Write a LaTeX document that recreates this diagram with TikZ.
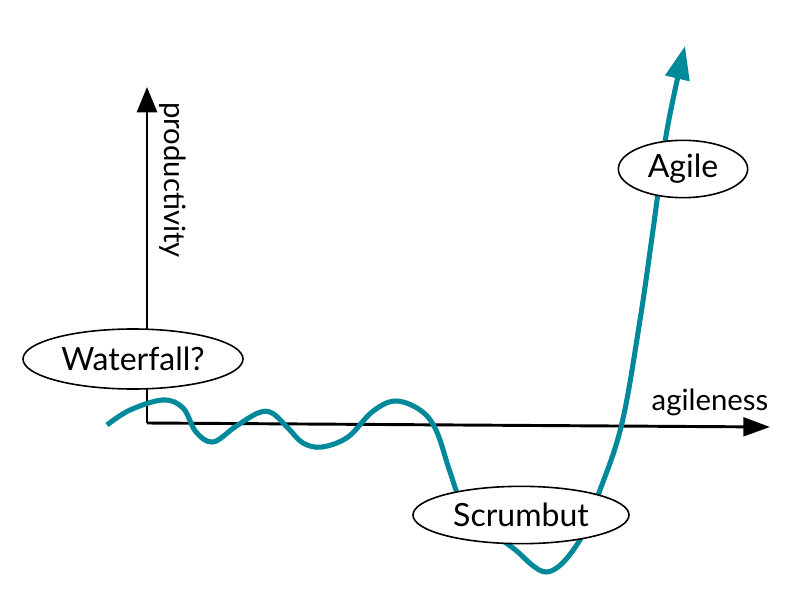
\documentclass[tikz,border=0pt]{standalone}
\usepackage{fontspec}
\setmainfont{Lato}
\usetikzlibrary{arrows.meta,shapes.geometric}
\definecolor{curveteal}{RGB}{0,137,154}
\tikzset{
	axisline/.style={line width=2.2pt, -{Triangle[length=19pt, width=15pt]}},
	labelbubble/.style={ellipse, draw, fill=white, line width=1.2pt, inner sep=0pt, font=\fontsize{24}{28}\selectfont},
	axislabel/.style={font=\fontsize{22}{26}\selectfont, inner sep=0pt}
}
\begin{document}
\begin{tikzpicture}[x=0.75pt, y=-0.75pt]
			%%%%% START %%%%%
			\useasboundingbox (0, 0) rectangle (802, 598);
			
			\coordinate (origin) at (147, 423);
			\coordinate (ytop) at (147, 87);
			\coordinate (xend) at (770, 427);
			
			\draw[axisline] (origin) -- (ytop);
			\draw[axisline, -{Triangle[length=20pt, width=14pt]}] (origin) -- (xend);
			
			\node[axislabel, rotate=-90] (prodlabel) at (173, 180) {productivity};
			\node[axislabel] (agilelabel) at (710, 402) {agileness};
			
			\coordinate (curvetip) at (685, 46);
			\draw[line width=3.8pt, color=curveteal, -{Triangle[length=25pt, width=18pt]}]
				plot[smooth, tension=0.6] coordinates {(107, 425) (130, 410) (163, 400) (183, 408) (196, 432) (213, 442) (235, 427) (258, 413) (272, 413) (288, 428) (303, 443) (322, 447) (348, 437) (372, 412) (395, 401) (420, 410) (436, 430) (450, 472) (462, 503) (485, 527) (513, 548) (547, 572) (578, 543) (600, 490) (622, 423) (640, 320) (653, 230) (667, 130) (curvetip)};
			
			\node[labelbubble, minimum width=165pt, minimum height=45pt] (waterfall) at (133, 359) {Waterfall?};
			\node[labelbubble, minimum width=97pt, minimum height=43pt] (agile) at (683, 169) {Agile};
			\node[labelbubble, minimum width=162pt, minimum height=43pt] (scrumbut) at (521, 515) {Scrumbut};
			
			%%%%% END %%%%%
\end{tikzpicture}
\end{document}
